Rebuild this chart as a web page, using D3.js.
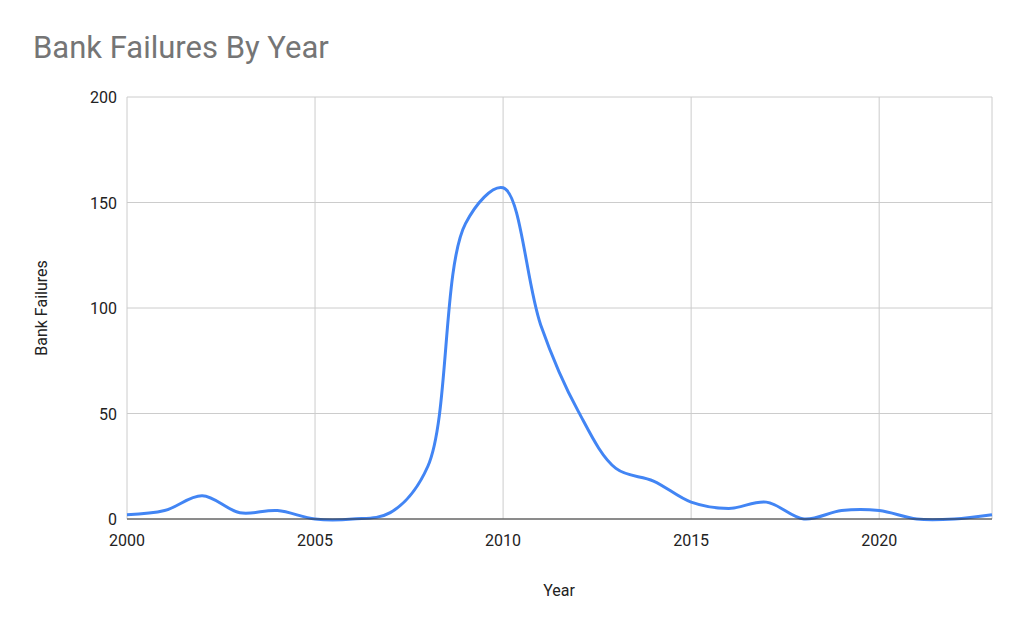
<!DOCTYPE html>
<html><head><meta charset="utf-8">
<script src="https://cdn.jsdelivr.net/npm/d3@7"></script>
<style>body{margin:0;background:#fff}</style>
</head><body>
<svg id="chart" width="1024" height="633"></svg>
<script>
const years = [2000,2001,2002,2003,2004,2005,2006,2007,2008,2009,2010,2011,2012,2013,2014,2015,2016,2017,2018,2019,2020,2021,2022,2023];
const failures = [2,4,11,3,4,0,0,3,25,140,157,92,51,24,18,8,5,8,0,4,4,0,0,2];
const xTicks = [2000,2005,2010,2015,2020];
const yTicks = [0,50,100,150,200];

const plotLeft = 127, plotRight = 992, plotTop = 97, plotBottom = 519;
const svg = d3.select("#chart");
const x = d3.scaleLinear().domain([2000, 2023]).range([plotLeft, plotRight]);
const y = d3.scaleLinear().domain([0, 200]).range([plotBottom, plotTop]);

svg.append("text").attr("x", 33).attr("y", 58).attr("font-family", "Roboto, Arial")
  .attr("font-size", 31).attr("fill", "#757575").text("Bank Failures By Year");

// gridlines
svg.selectAll(".hg").data(yTicks).enter().append("line")
  .attr("x1", plotLeft).attr("x2", plotRight).attr("y1", d => y(d)).attr("y2", d => y(d))
  .attr("stroke", "#cccccc");
svg.selectAll(".vg").data(xTicks).enter().append("line")
  .attr("x1", d => x(d)).attr("x2", d => x(d)).attr("y1", plotTop).attr("y2", plotBottom)
  .attr("stroke", "#cccccc");
svg.append("line").attr("x1", plotRight).attr("x2", plotRight).attr("y1", plotTop).attr("y2", plotBottom).attr("stroke", "#cccccc");

svg.selectAll(".yl").data(yTicks).enter().append("text")
  .attr("x", plotLeft - 10).attr("y", d => y(d) + 6).attr("text-anchor", "end")
  .attr("font-family", "Roboto, Arial").attr("font-size", 16).attr("fill", "#222").text(d => d);
svg.selectAll(".xl").data(xTicks).enter().append("text")
  .attr("x", d => x(d)).attr("y", plotBottom + 27).attr("text-anchor", "middle")
  .attr("font-family", "Roboto, Arial").attr("font-size", 16).attr("fill", "#222").text(d => d);

svg.append("text").attr("x", 559).attr("y", 596).attr("text-anchor", "middle")
  .attr("font-family", "Roboto, Arial").attr("font-size", 16).attr("fill", "#222").text("Year");
svg.append("text").attr("transform", "translate(47,308) rotate(-90)").attr("text-anchor", "middle")
  .attr("font-family", "Roboto, Arial").attr("font-size", 16).attr("fill", "#222").text("Bank Failures");

const line = d3.line().x((d, i) => x(years[i])).y(d => y(d)).curve(d3.curveCatmullRom.alpha(0.5));
svg.append("path").datum(failures).attr("d", line).attr("fill", "none")
  .attr("stroke", "#4285f4").attr("stroke-width", 3);

svg.append("line").attr("x1", plotLeft).attr("x2", plotRight).attr("y1", plotBottom).attr("y2", plotBottom).attr("stroke", "#333");
</script>
</body></html>
